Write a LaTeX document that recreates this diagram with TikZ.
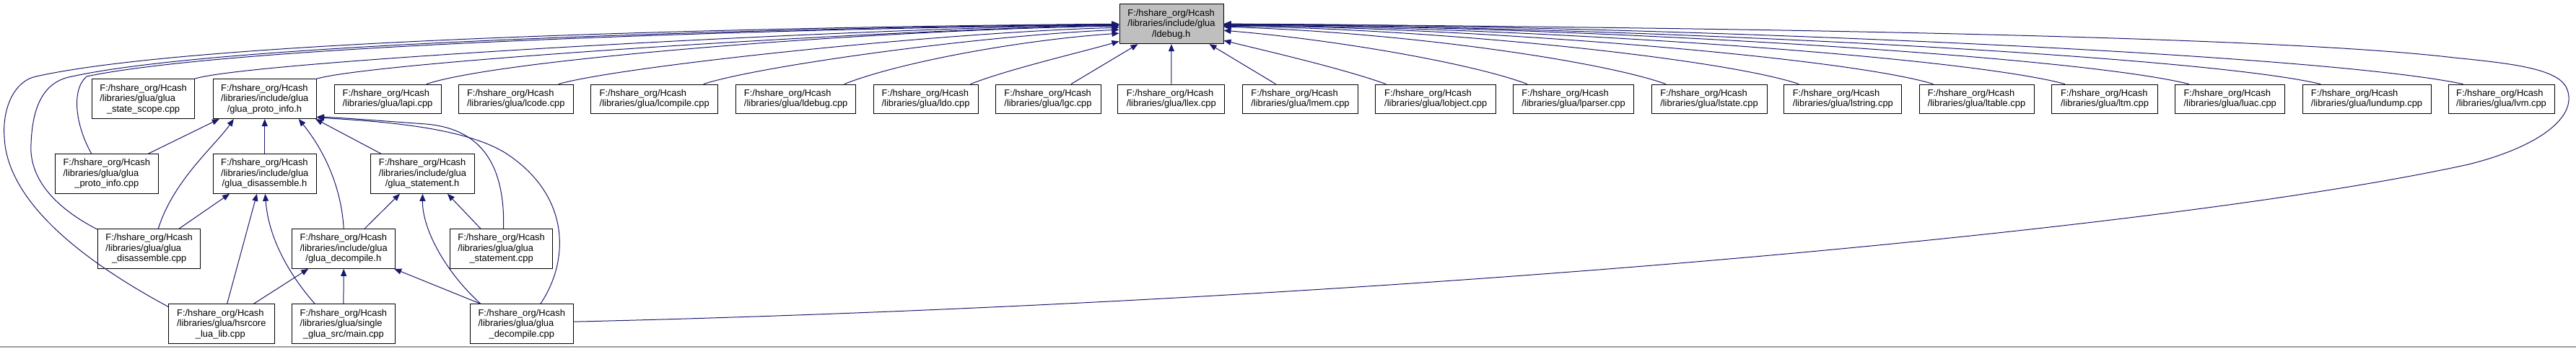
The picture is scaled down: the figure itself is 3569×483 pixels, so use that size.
\documentclass[tikz,border=0pt]{standalone}
\usepackage{fontspec}
\setmainfont{Liberation Sans}
\usetikzlibrary{arrows.meta,calc}
\definecolor{navy}{HTML}{191970}
\definecolor{hl}{HTML}{BFBFBF}
\newlength\hw
\newcommand\hdr{F:/hshare\_org/Hcash}
\newcommand\labthree[2]{\hdr\\#1\\\settowidth{\hw}{\hdr}\makebox[\hw][c]{#2}}
\newcommand\labtwo[1]{\hdr\\#1}
\begin{document}
\begin{tikzpicture}[x=1pt,y=-1pt,
  box/.style={draw=black, line width=1pt, fill=white, inner sep=0pt, align=left,
    font=\fontsize{12.9}{14.5}\selectfont, minimum height=54.6pt},
  boxtwo/.style={box, minimum height=40.3pt},
  edge/.style={draw=navy, line width=1pt, -{Triangle[length=10pt,width=8pt]}}]
\fill[white] (0,0) rectangle (3569,483);
\useasboundingbox (0,0) rectangle (3569,483);
\draw[gray!75, line width=2pt] (0,481) -- (3569,481);

% top
\node[box, fill=hl, minimum width=144pt, minimum height=55pt] (ld) at (1623,33.2) {\labthree{/libraries/include/glua}{/ldebug.h}};
% row 2
\node[box, minimum width=142.4pt] (ss) at (198.6,137.2) {\labthree{/libraries/glua/glua}{\_state\_scope.cpp}};
\node[box, minimum width=143.6pt] (pih) at (366.8,137.2) {\labthree{/libraries/include/glua}{/glua\_proto\_info.h}};
\node[boxtwo, minimum width=148pt] (lapi) at (537,137.2) {\labtwo{/libraries/glua/lapi.cpp}};
\node[boxtwo, minimum width=158.5pt] (lcode) at (714.8,137.2) {\labtwo{/libraries/glua/lcode.cpp}};
\node[boxtwo, minimum width=176.1pt] (lcompile) at (906.7,137.2) {\labtwo{/libraries/glua/lcompile.cpp}};
\node[boxtwo, minimum width=166.5pt] (ldcpp) at (1102.7,137.2) {\labtwo{/libraries/glua/ldebug.cpp}};
\node[boxtwo, minimum width=145pt] (ldo) at (1282.5,137.2) {\labtwo{/libraries/glua/ldo.cpp}};
\node[boxtwo, minimum width=146pt] (lgc) at (1452,137.2) {\labtwo{/libraries/glua/lgc.cpp}};
\node[boxtwo, minimum width=148pt] (llex) at (1622.8,137.2) {\labtwo{/libraries/glua/llex.cpp}};
\node[boxtwo, minimum width=160pt] (lmem) at (1801.5,137.2) {\labtwo{/libraries/glua/lmem.cpp}};
\node[boxtwo, minimum width=167pt] (lobject) at (1989.2,137.2) {\labtwo{/libraries/glua/lobject.cpp}};
\node[boxtwo, minimum width=166.5pt] (lparser) at (2180,137.2) {\labtwo{/libraries/glua/lparser.cpp}};
\node[boxtwo, minimum width=160pt] (lstate) at (2368,137.2) {\labtwo{/libraries/glua/lstate.cpp}};
\node[boxtwo, minimum width=162.7pt] (lstring) at (2553.3,137.2) {\labtwo{/libraries/glua/lstring.cpp}};
\node[boxtwo, minimum width=159pt] (ltable) at (2738.5,137.2) {\labtwo{/libraries/glua/ltable.cpp}};
\node[boxtwo, minimum width=147pt] (ltm) at (2916,137.2) {\labtwo{/libraries/glua/ltm.cpp}};
\node[boxtwo, minimum width=152pt] (luac) at (3089.7,137.2) {\labtwo{/libraries/glua/luac.cpp}};
\node[boxtwo, minimum width=178pt] (lundump) at (3279,137.2) {\labtwo{/libraries/glua/lundump.cpp}};
\node[boxtwo, minimum width=147pt] (lvm) at (3465.5,137.2) {\labtwo{/libraries/glua/lvm.cpp}};
% row 3
\node[box, minimum width=143pt] (picpp) at (147.8,241) {\labthree{/libraries/glua/glua}{\_proto\_info.cpp}};
\node[box, minimum width=143.6pt] (dish) at (366.8,241) {\labthree{/libraries/include/glua}{/glua\_disassemble.h}};
\node[box, minimum width=143.5pt] (sth) at (585.5,241) {\labthree{/libraries/include/glua}{/glua\_statement.h}};
% row 4
\node[box, minimum width=142.3pt] (discpp) at (206.7,345) {\labthree{/libraries/glua/glua}{\_disassemble.cpp}};
\node[box, minimum width=143pt] (dech) at (476.2,345) {\labthree{/libraries/include/glua}{/glua\_decompile.h}};
\node[box, minimum width=142.4pt] (stcpp) at (694.6,345) {\labthree{/libraries/glua/glua}{\_statement.cpp}};
% row 5
\node[box, minimum width=146.4pt] (hsr) at (306.8,449.2) {\labthree{/libraries/glua/hsrcore}{\_lua\_lib.cpp}};
\node[box, minimum width=142.3pt] (main) at (475.9,449.2) {\labthree{/libraries/glua/single}{\_glua\_src/main.cpp}};
\node[box, minimum width=142.4pt] (deccpp) at (722.8,449.2) {\labthree{/libraries/glua/glua}{\_decompile.cpp}};

% edges to ldebug.h, far left
\draw[edge] ($(hsr.north west)+(0,4)$) .. controls (140,375) and (10,290) .. (6,190)
  .. controls (3,150) and (20,112) .. (50,106)
  .. controls (300,50) and (1200,36) .. ($(ld.north west)+(0,28)$);
\draw[edge] ($(discpp.north west)+(0,1)$) .. controls (80,290) and (40,250) .. (43,200)
  .. controls (45,140) and (65,112) .. (100,106)
  .. controls (330,55) and (1200,37) .. ($(ld.north west)+(0,28.5)$);
\draw[edge] ($(picpp.north west)+(51,0)$) .. controls (105,175) and (98,125) .. (120,106)
  .. controls (350,58) and (1200,38) .. ($(ld.north west)+(0,29)$);
% row 2 left
\draw[edge] ($(ss.north east)+(-1,0)$) .. controls (340,85) and (1200,38) .. ($(ld.north west)+(0,29.5)$);
\draw[edge] ($(pih.north east)+(-1,0)$) .. controls (520,85) and (1250,40) .. ($(ld.north west)+(0,30)$);
\draw[edge] ($(lapi.north)+(54,0)$) .. controls (700,80) and (1250,40) .. ($(ld.north west)+(0,31)$);
\draw[edge] ($(lcode.north)+(59,0)$) .. controls (860,92) and (1300,45) .. ($(ld.north west)+(0,33)$);
\draw[edge] ($(lcompile.north)+(68,0)$) .. controls (1050,92) and (1350,50) .. ($(ld.north west)+(0,36)$);
\draw[edge] ($(ldcpp.north)+(67,0)$) .. controls (1250,85) and (1420,55) .. ($(ld.north west)+(0,41)$);
\draw[edge] ($(ldo.north)+(62,0)$) .. controls (1400,95) and (1500,72) .. ($(ld.north west)+(0,52)$);
\draw[edge] ($(lgc.north)+(32,0)$) -- ($(ld.south west)+(26,0)$);
\draw[edge] (llex.north) -- (ld.south);
\draw[edge] ($(lmem.north)+(-34,0)$) -- ($(ld.south east)+(-20,0)$);
% row 2 right
\draw[edge] ($(lobject.north)+(-69,0)$) .. controls (1860,95) and (1760,72) .. ($(ld.north east)+(0,51)$);
\draw[edge] ($(lparser.north)+(-64,0)$) .. controls (2040,88) and (1850,55) .. ($(ld.north east)+(0,37)$);
\draw[edge] ($(lstate.north)+(-60,0)$) .. controls (2220,85) and (1950,45) .. ($(ld.north east)+(0,32)$);
\draw[edge] ($(lstring.north)+(-61,0)$) .. controls (2390,82) and (2000,40) .. ($(ld.north east)+(0,31)$);
\draw[edge] ($(ltable.north)+(-60,0)$) .. controls (2560,80) and (2050,38) .. ($(ld.north east)+(0,30)$);
\draw[edge] ($(ltm.north)+(-55,0)$) .. controls (2720,78) and (2100,36) .. ($(ld.north east)+(0,30)$);
\draw[edge] ($(luac.north)+(-57,0)$) .. controls (2870,76) and (2150,35) .. ($(ld.north east)+(0,29)$);
\draw[edge] ($(lundump.north)+(-64,0)$) .. controls (3040,75) and (2200,35) .. ($(ld.north east)+(0,29)$);
\draw[edge] ($(lvm.north)+(-53,0)$) .. controls (3200,72) and (2250,34) .. ($(ld.north east)+(0,28)$);
% big loop
\draw[edge] ($(deccpp.east)+(0,-3)$) .. controls (1900,420) and (3000,320) .. (3420,228)
  .. controls (3520,203) and (3575,160) .. (3555,120)
  .. controls (3540,95) and (3480,88) .. (3400,80)
  .. controls (3150,50) and (2400,38) .. ($(ld.north east)+(0,28)$);

% edges to glua_proto_info.h
\draw[edge] ($(picpp.north)+(57.5,0)$) -- ($(pih.south west)+(9.3,0)$);
\draw[edge] ($(discpp.north)+(12.6,0)$) .. controls (240,250) and (300,200) .. ($(pih.south west)+(29.3,0)$);
\draw[edge] (dish.north) -- (pih.south);
\draw[edge] (dech.north) .. controls (473,260) and (450,210) .. ($(pih.south east)+(-25.3,0)$);
\draw[edge] ($(sth.north)+(-57.5,0)$) -- ($(pih.south east)+(-2,0)$);
\draw[edge] ($(stcpp.north)+(3,0)$) .. controls (700,220) and (660,178) .. (590,172)
  .. controls (520,167) and (470,163) .. ($(pih.south east)+(0,-3)$);
\draw[edge] ($(deccpp.north)+(26,0)$) .. controls (790,360) and (790,270) .. (700,212)
  .. controls (640,175) and (520,168) .. ($(pih.south east)+(0,-2)$);
% edges to glua_disassemble.h
\draw[edge] ($(discpp.north)+(41.3,0)$) -- ($(dish.south west)+(23.6,0)$);
\draw[edge] ($(hsr.north)+(7.8,0)$) -- ($(dish.south)+(-10.8,0)$);
\draw[edge] ($(main.north)+(-39.6,0)$) .. controls (400,380) and (372,330) .. ($(dish.south)+(0.6,0)$);
% edges to glua_statement.h
\draw[edge] ($(dech.north)+(28.8,0)$) -- ($(sth.south)+(-31.5,0)$);
\draw[edge] ($(stcpp.north)+(-28.6,0)$) -- ($(sth.south)+(34.5,0)$);
\draw[edge] ($(deccpp.north)+(-56.8,0)$) .. controls (620,380) and (585,320) .. (sth.south);
% edges to glua_decompile.h
\draw[edge] ($(hsr.north)+(44.5,0)$) -- ($(dech.south west)+(23,0)$);
\draw[edge] (main.north) -- (dech.south);
\draw[edge] ($(deccpp.north)+(-56.8,0)$) -- ($(dech.south east)+(-2,0)$);
\end{tikzpicture}
\end{document}
